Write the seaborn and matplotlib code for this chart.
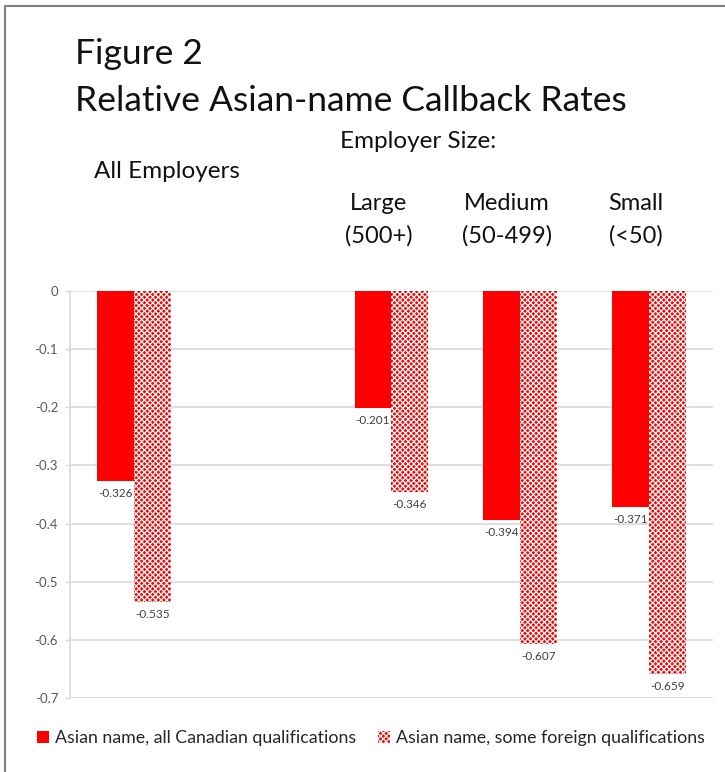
import numpy as np
import pandas as pd
import matplotlib
matplotlib.use("Agg")
import matplotlib.pyplot as plt
from matplotlib.patches import Patch
from matplotlib.lines import Line2D
import seaborn as sns

# ---- data -------------------------------------------------------------
groups = ["All Employers", "", "Large\n(500+)", "Medium\n(50-499)", "Small\n(<50)"]
canadian_quals = [-0.326, np.nan, -0.201, -0.394, -0.371]
foreign_quals = [-0.535, np.nan, -0.346, -0.607, -0.659]
series_names = ["Asian name, all Canadian qualifications",
                "Asian name, some foreign qualifications"]
yticks = [0, -0.1, -0.2, -0.3, -0.4, -0.5, -0.6, -0.7]
ytick_labels = ["0", "-0.1", "-0.2", "-0.3", "-0.4", "-0.5", "-0.6", "-0.7"]

df = pd.DataFrame({
    "group": groups * 2,
    "series": [series_names[0]] * len(groups) + [series_names[1]] * len(groups),
    "value": canadian_quals + foreign_quals,
})

sns.set_theme(style="white")
plt.rcParams["font.family"] = ["Lato", "DejaVu Sans"]
plt.rcParams["hatch.linewidth"] = 0.9

RED = "#ff0000"
W, H, DPI = 725, 772, 100
fig = plt.figure(figsize=(W / DPI, H / DPI), dpi=DPI)
ax = fig.add_axes([70 / W, 1 - 698 / H, 643 / W, 407 / H])

sns.barplot(data=df, x="group", y="value", hue="series", order=groups,
            hue_order=series_names, palette=[RED, RED], width=0.575,
            gap=0, dodge=True, legend=False, ax=ax, saturation=1,
            err_kws={"linewidth": 0})

# style the second series with a fine check pattern
n = len(groups)
for i, container in enumerate(ax.containers):
    for bar in container:
        bar.set_linewidth(0)
        if i == 1:
            bar.set_facecolor(RED)
            bar.set_edgecolor("white")
            bar.set_hatch("xxxxxx")

# value labels just below each bar end
for container in ax.containers:
    for bar in container:
        h = bar.get_height()
        if np.isnan(h) or h == 0:
            continue
        ax.text(bar.get_x() + bar.get_width() / 2, h - 0.012, f"{h:.3f}",
                ha="center", va="top", fontsize=8.5, color="#404040")

ax.set_ylim(-0.7, 0)
ax.set_xlim(-0.5, n - 0.5)
ax.set_yticks(yticks)
ax.set_yticklabels(ytick_labels, fontsize=9.5, color="#595959")
ax.set_xticks([])
ax.set_xlabel("")
ax.set_ylabel("")
ax.yaxis.grid(True, color="#d9d9d9", linewidth=1.2)
ax.set_axisbelow(True)
ax.tick_params(axis="y", length=3.6, width=1, color="#d9d9d9", pad=5, left=True)
for side in ["top", "right", "bottom"]:
    ax.spines[side].set_visible(False)
ax.spines["left"].set_color("#d9d9d9")
ax.spines["left"].set_linewidth(1.2)

# category headings above the bars
trans = ax.get_xaxis_transform()
for i, g in enumerate(groups):
    if not g or i == 0:
        continue
    ax.text(i - 0.1, 1 + (291 - 193) / 407, g, transform=trans, ha="center",
            va="top", multialignment="center", fontsize=17, color="#111111",
            linespacing=1.65, clip_on=False)
ax.text(0.25, 1 + (291 - 161) / 407, groups[0], transform=trans, ha="center",
        va="top", fontsize=17.5, color="#111111", clip_on=False)
fig.text(340 / W, 1 - 148 / H, "Employer Size:", fontsize=17.5,
         color="#111111", va="baseline", ha="left")

# titles
fig.text(75 / W, 1 - 64 / H, "Figure 2", fontsize=25.5, color="#111111",
         va="baseline", ha="left")
fig.text(75 / W, 1 - 111 / H, "Relative Asian-name Callback Rates",
         fontsize=25.5, color="#111111", va="baseline", ha="left")

# legend
handles = [Patch(facecolor=RED, edgecolor=RED, linewidth=0),
           Patch(facecolor=RED, edgecolor="white", linewidth=0, hatch="xxxxxx")]
fig.legend(handles, series_names, loc="center", ncol=2,
           bbox_to_anchor=(371 / W, 1 - 738 / H), frameon=False,
           fontsize=12.8, handlelength=0.7, handleheight=0.7,
           handletextpad=0.35, columnspacing=1.2, labelcolor="#262626")

# outer frame (top and left edges)
fig.add_artist(Line2D([5 / W, 1], [1 - 6 / H, 1 - 6 / H],
                      transform=fig.transFigure, color="#808080", linewidth=1.5))
fig.add_artist(Line2D([5 / W, 5 / W], [0, 1 - 6 / H],
                      transform=fig.transFigure, color="#808080", linewidth=1.5))

fig.savefig("out.png", dpi=DPI)
